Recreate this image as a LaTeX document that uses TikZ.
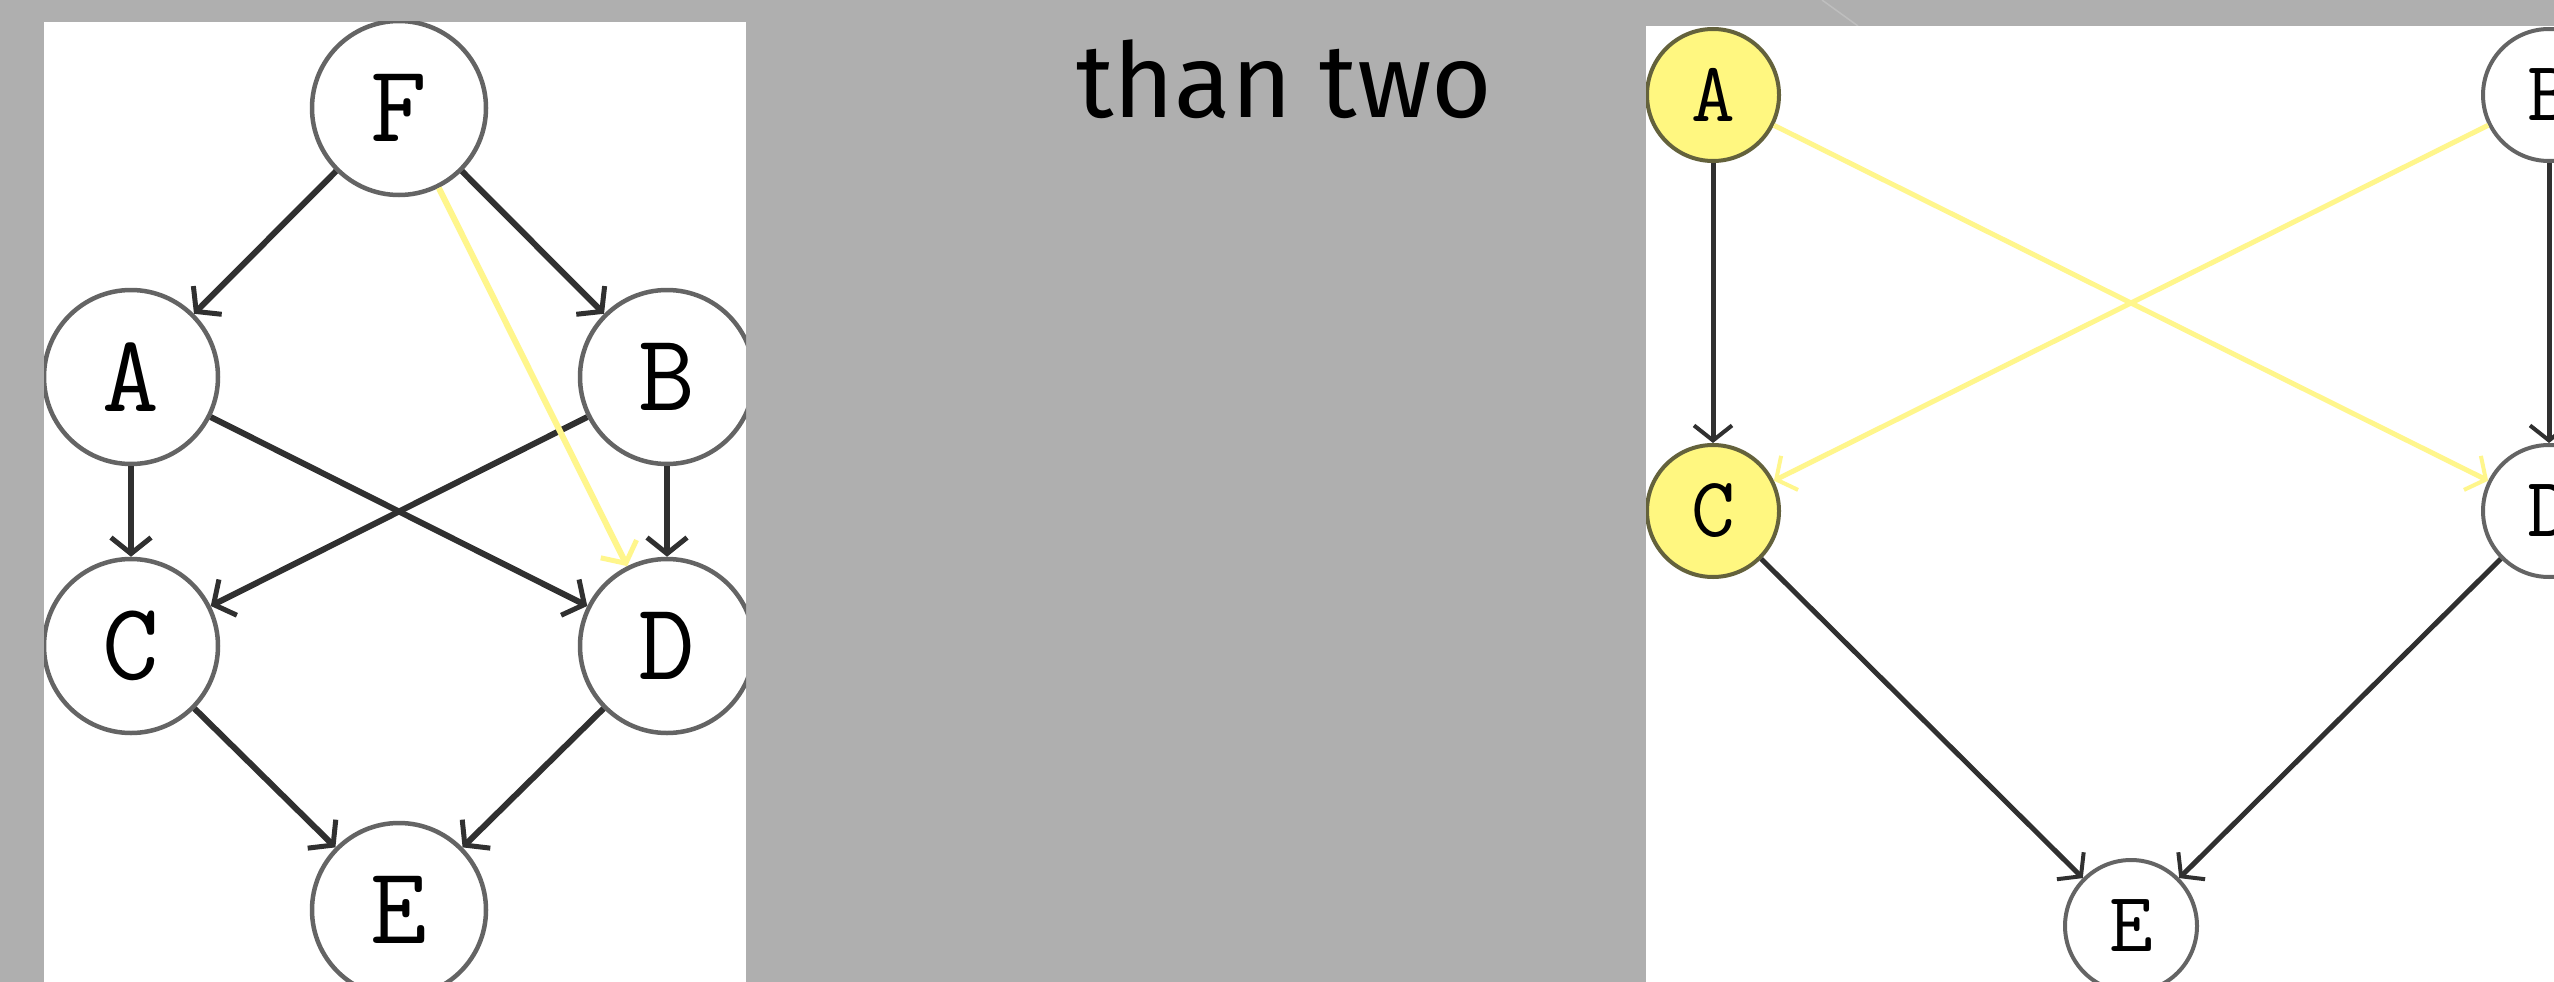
\documentclass[tikz,border=0pt]{standalone}
\usepackage{fontspec}
\newfontfamily\titlefont{Fira Sans}
\usetikzlibrary{arrows.meta}
\definecolor{bg}{RGB}{175,175,175}
\definecolor{bgline}{RGB}{190,190,190}
\definecolor{hl}{RGB}{255,247,128}
\definecolor{hledge}{RGB}{255,246,140}
\definecolor{edgecol}{RGB}{48,48,48}
\definecolor{ringcol}{RGB}{100,100,100}
\definecolor{hlring}{RGB}{100,98,60}
\tikzset{
  bignode/.style={circle, draw=ringcol, line width=4.5pt, minimum size=174pt, inner sep=0pt,
    font=\fontsize{110}{110}\selectfont\ttfamily},
  smallnode/.style={circle, draw=ringcol, line width=4pt, minimum size=132pt, inner sep=0pt,
    font=\fontsize{85}{85}\selectfont\ttfamily},
  hlnode/.style={fill=hl, draw=hlring},
  bigedge/.style={draw=edgecol, line width=6pt, -{Straight Barb[length=16pt,width=40pt,line width=5pt]}},
  bighl/.style={draw=hledge, line width=6pt, -{Straight Barb[length=16pt,width=40pt,line width=5pt]}},
  smalledge/.style={draw=edgecol, line width=5pt, -{Straight Barb[length=15pt,width=38pt,line width=4pt]}},
  smallhl/.style={draw=hledge, line width=5pt, -{Straight Barb[length=15pt,width=38pt,line width=4pt]}},
}
\begin{document}
\begin{tikzpicture}[x=1pt,y=-1pt]
\useasboundingbox (0,0) rectangle (2554,982);
\fill[bg] (0,0) rectangle (2554,982);
\draw[bgline, line width=1.5pt] (1822,0) -- (1858,26);
% title text
\node[anchor=base west, inner sep=0pt, font=\titlefont\fontsize{104}{104}\selectfont] (title) at (1076,117) {than two};
% left panel
\begin{scope}
\clip (44,22) rectangle (746,982);
\fill[white] (44,22) rectangle (746,982);
\node[bignode] (F) at (399,108) {F};
\node[bignode] (A) at (131,377) {A};
\node[bignode] (B) at (667,377) {B};
\node[bignode] (C) at (131,646) {C};
\node[bignode] (D) at (667,646) {D};
\node[bignode] (E) at (399,910) {E};
\draw[bigedge] (F) -- (A);
\draw[bigedge] (F) -- (B);
\draw[bigedge] (A) -- (C);
\draw[bigedge] (B) -- (D);
\draw[bigedge] (A) -- (D);
\draw[bigedge] (B) -- (C);
\draw[bigedge] (C) -- (E);
\draw[bigedge] (D) -- (E);
\draw[bighl] (F) -- (D);
\end{scope}
% right panel
\begin{scope}
\clip (1646,26) rectangle (2554,982);
\fill[white] (1646,26) rectangle (2554,982);
\node[smallnode, hlnode] (rA) at (1713,95) {A};
\node[smallnode] (rB) at (2549,95) {B};
\node[smallnode, hlnode] (rC) at (1713,511) {C};
\node[smallnode] (rD) at (2549,511) {D};
\node[smallnode] (rE) at (2131,926) {E};
\draw[smalledge] (rA) -- (rC);
\draw[smalledge] (rB) -- (rD);
\draw[smalledge] (rC) -- (rE);
\draw[smalledge] (rD) -- (rE);
\draw[smallhl] (rA) -- (rD);
\draw[smallhl] (rB) -- (rC);
\end{scope}
\end{tikzpicture}
\end{document}
